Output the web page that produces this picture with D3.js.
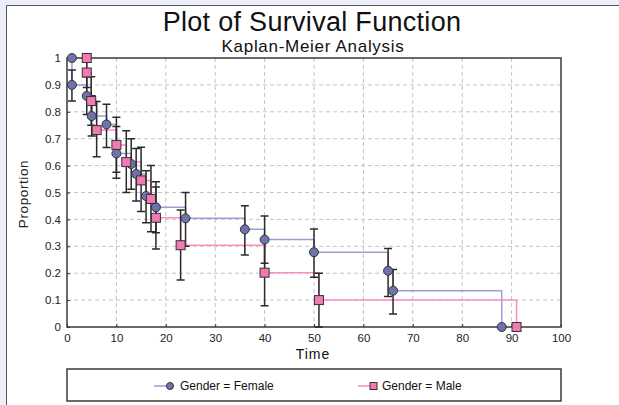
<!DOCTYPE html>
<html lang="en">
<head>
    <meta charset="UTF-8">
    <title>Plot of Survival Function</title>
    <script src="https://d3js.org/d3.v7.min.js"></script>
    <style>
        html, body {
            margin: 0;
            padding: 0;
            background: #eceef9;
        }
        svg text {
            font-family: "Liberation Sans", Arial, sans-serif;
        }
    </style>
</head>
<body>
<div id="vis"></div>
<script>

    // Kaplan-Meier estimates
    var femaleTime = [1, 1, 4, 5, 8, 10, 13, 14, 16, 18, 24, 36, 40, 50, 65, 66, 88];
    var femaleSurv = [1.0, 0.9, 0.859, 0.784, 0.753, 0.645, 0.606, 0.569, 0.487, 0.445, 0.404, 0.363, 0.325, 0.278, 0.209, 0.135, 0];
    var femaleLo   = [null, 0.84, 0.79, 0.71, 0.667, 0.553, 0.512, 0.468, 0.388, 0.35, 0.30, 0.268, 0.237, 0.185, 0.113, 0.048, null];
    var femaleHi   = [null, 0.955, 0.93, 0.86, 0.828, 0.745, 0.70, 0.664, 0.581, 0.54, 0.50, 0.451, 0.413, 0.364, 0.292, 0.214, null];

    var maleTime = [4, 4, 4.9, 6, 10, 12, 15, 17, 18, 23, 40, 51, 91];
    var maleSurv = [1.0, 0.946, 0.84, 0.732, 0.677, 0.613, 0.545, 0.476, 0.406, 0.304, 0.202, 0.1, 0];
    var maleLo   = [null, 0.89, 0.75, 0.633, 0.575, 0.50, 0.429, 0.354, 0.29, 0.175, 0.079, 0.0, null];
    var maleHi   = [null, 1.0, 0.93, 0.838, 0.78, 0.73, 0.668, 0.60, 0.52, 0.435, 0.325, 0.2, null];

    var xTicks = [0, 10, 20, 30, 40, 50, 60, 70, 80, 90, 100];
    var yTicks = [0, 0.1, 0.2, 0.3, 0.4, 0.5, 0.6, 0.7, 0.8, 0.9, 1];

    var legendLabels = ["Gender = Female", "Gender = Male"];

    var W = 619, H = 405;
    var plot = {left: 67, right: 561, top: 58, bottom: 327};

    var svg = d3.select('#vis')
        .append('svg')
            .attr('width', W)
            .attr('height', H);

    // white panel with dark left/top edge
    svg.append('rect')
        .attr('x', 6).attr('y', 5)
        .attr('width', W - 6).attr('height', H - 5)
        .attr('fill', '#fff');
    svg.append('path')
        .attr('d', 'M6.5,' + H + 'V5.5H' + W)
        .attr('fill', 'none')
        .attr('stroke', '#555')
        .attr('stroke-width', 1);

    var x_scale = d3.scaleLinear()
        .domain([0, 100])
        .range([plot.left, plot.right]);

    var y_scale = d3.scaleLinear()
        .domain([0, 1])
        .range([plot.bottom, plot.top]);

    // grid
    svg.append('g')
        .selectAll('line')
        .data(xTicks.slice(1, -1))
        .enter().append('line')
            .attr('x1', function(d){ return x_scale(d); })
            .attr('x2', function(d){ return x_scale(d); })
            .attr('y1', plot.top)
            .attr('y2', plot.bottom)
            .attr('stroke', '#c4c4c4')
            .attr('stroke-dasharray', '4,3');

    svg.append('g')
        .selectAll('line')
        .data(yTicks.slice(1, -1))
        .enter().append('line')
            .attr('x1', plot.left)
            .attr('x2', plot.right)
            .attr('y1', function(d){ return y_scale(d); })
            .attr('y2', function(d){ return y_scale(d); })
            .attr('stroke', '#c4c4c4')
            .attr('stroke-dasharray', '4,3');

    // axes (ticks pointing inward)
    var x_axis = d3.axisBottom(x_scale)
        .tickValues(xTicks)
        .tickSizeInner(-3)
        .tickSizeOuter(0)
        .tickPadding(7);
    var y_axis = d3.axisLeft(y_scale)
        .tickValues(yTicks)
        .tickSizeInner(-3)
        .tickSizeOuter(0)
        .tickPadding(6)
        .tickFormat(d3.format('~g'));

    var gx = svg.append('g')
        .attr('transform', 'translate(0,' + plot.bottom + ')')
        .call(x_axis);
    var gy = svg.append('g')
        .attr('transform', 'translate(' + plot.left + ',0)')
        .call(y_axis);
    [gx, gy].forEach(function(g) {
        g.select('.domain').remove();
        g.selectAll('line').attr('stroke', '#333');
        g.selectAll('text')
            .attr('fill', '#222')
            .style('font-size', '11.5px');
    });

    // frame
    svg.append('rect')
        .attr('x', plot.left).attr('y', plot.top)
        .attr('width', plot.right - plot.left)
        .attr('height', plot.bottom - plot.top)
        .attr('fill', 'none')
        .attr('stroke', '#3a3a3a')
        .attr('stroke-width', 1.5);

    function stepPath(times, surv) {
        var p = d3.path();
        p.moveTo(x_scale(times[0]), y_scale(surv[0]));
        for (var i = 1; i < times.length; i++) {
            p.lineTo(x_scale(times[i]), y_scale(surv[i - 1]));
            p.lineTo(x_scale(times[i]), y_scale(surv[i]));
        }
        return p.toString();
    }

    var series = [
        {name: legendLabels[0], t: femaleTime, s: femaleSurv, lo: femaleLo, hi: femaleHi,
         line: '#9b9dd4', fill: '#6f73ad', shape: 'circle'},
        {name: legendLabels[1], t: maleTime, s: maleSurv, lo: maleLo, hi: maleHi,
         line: '#ff8ac4', fill: '#f27ab3', shape: 'square'}
    ];

    // step lines
    series.forEach(function(sr) {
        svg.append('path')
            .attr('d', stepPath(sr.t, sr.s))
            .attr('fill', 'none')
            .attr('stroke', sr.line)
            .attr('stroke-width', 1.5);
    });

    // error bars
    series.forEach(function(sr) {
        var idx = d3.range(sr.t.length).filter(function(i){ return sr.lo[i] !== null; });
        var g = svg.append('g')
            .attr('stroke', '#2a2a2a')
            .attr('stroke-width', 1.5)
            .attr('fill', 'none');
        g.selectAll('path')
            .data(idx)
            .enter().append('path')
                .attr('d', function(i) {
                    var cx = x_scale(sr.t[i]), y0 = y_scale(sr.lo[i]), y1 = y_scale(sr.hi[i]);
                    return 'M' + (cx - 4) + ',' + y1 + 'H' + (cx + 4) +
                           'M' + cx + ',' + y1 + 'V' + y0 +
                           'M' + (cx - 4) + ',' + y0 + 'H' + (cx + 4);
                });
    });

    function drawMarker(g, shape, cx, cy, fill) {
        if (shape === 'circle') {
            g.append('circle')
                .attr('cx', cx).attr('cy', cy).attr('r', 4.5)
                .attr('fill', fill).attr('stroke', '#333').attr('stroke-width', 1);
        } else {
            g.append('rect')
                .attr('x', cx - 4.5).attr('y', cy - 4.5)
                .attr('width', 9).attr('height', 9)
                .attr('fill', fill).attr('stroke', '#333').attr('stroke-width', 1);
        }
    }

    // markers
    series.forEach(function(sr) {
        var g = svg.append('g');
        sr.t.forEach(function(t, i) {
            drawMarker(g, sr.shape, x_scale(t), y_scale(sr.s[i]), sr.fill);
        });
    });

    // titles
    svg.append('text')
        .attr('x', 312).attr('y', 31)
        .attr('text-anchor', 'middle')
        .style('font-size', '27px')
        .style('letter-spacing', '0.3px')
        .attr('fill', '#111')
        .text('Plot of Survival Function');
    svg.append('text')
        .attr('x', 313).attr('y', 52)
        .attr('text-anchor', 'middle')
        .style('font-size', '17px')
        .style('letter-spacing', '0.7px')
        .attr('fill', '#111')
        .text('Kaplan-Meier Analysis');

    svg.append('text')
        .attr('x', 313).attr('y', 359)
        .attr('text-anchor', 'middle')
        .style('font-size', '14px')
        .style('letter-spacing', '1px')
        .attr('fill', '#111')
        .text('Time');
    svg.append('text')
        .attr('transform', 'translate(28,' + 194 + ') rotate(-90)')
        .attr('text-anchor', 'middle')
        .style('font-size', '13.5px')
        .style('letter-spacing', '0.6px')
        .attr('fill', '#222')
        .text('Proportion');

    // legend
    svg.append('rect')
        .attr('x', plot.left).attr('y', 369)
        .attr('width', plot.right - plot.left).attr('height', 32)
        .attr('fill', '#fff')
        .attr('stroke', '#3a3a3a')
        .attr('stroke-width', 1.5);

    var legendX = [154, 358];
    series.forEach(function(sr, i) {
        var g = svg.append('g');
        var lx = legendX[i];
        g.append('line')
            .attr('x1', lx).attr('x2', lx + 15)
            .attr('y1', 386).attr('y2', 386)
            .attr('stroke', sr.line).attr('stroke-width', 1.5);
        if (sr.shape === 'circle') {
            g.append('circle').attr('cx', lx + 16).attr('cy', 386).attr('r', 3.5)
                .attr('fill', sr.fill).attr('stroke', '#333');
        } else {
            g.append('rect').attr('x', lx + 12).attr('y', 382.5)
                .attr('width', 7).attr('height', 7)
                .attr('fill', sr.fill).attr('stroke', '#333');
        }
        g.append('text')
            .attr('x', lx + (i === 0 ? 26 : 24)).attr('y', 390)
            .style('font-size', '12px')
            .attr('fill', '#111')
            .text(sr.name);
    });

</script>
</body>
</html>
